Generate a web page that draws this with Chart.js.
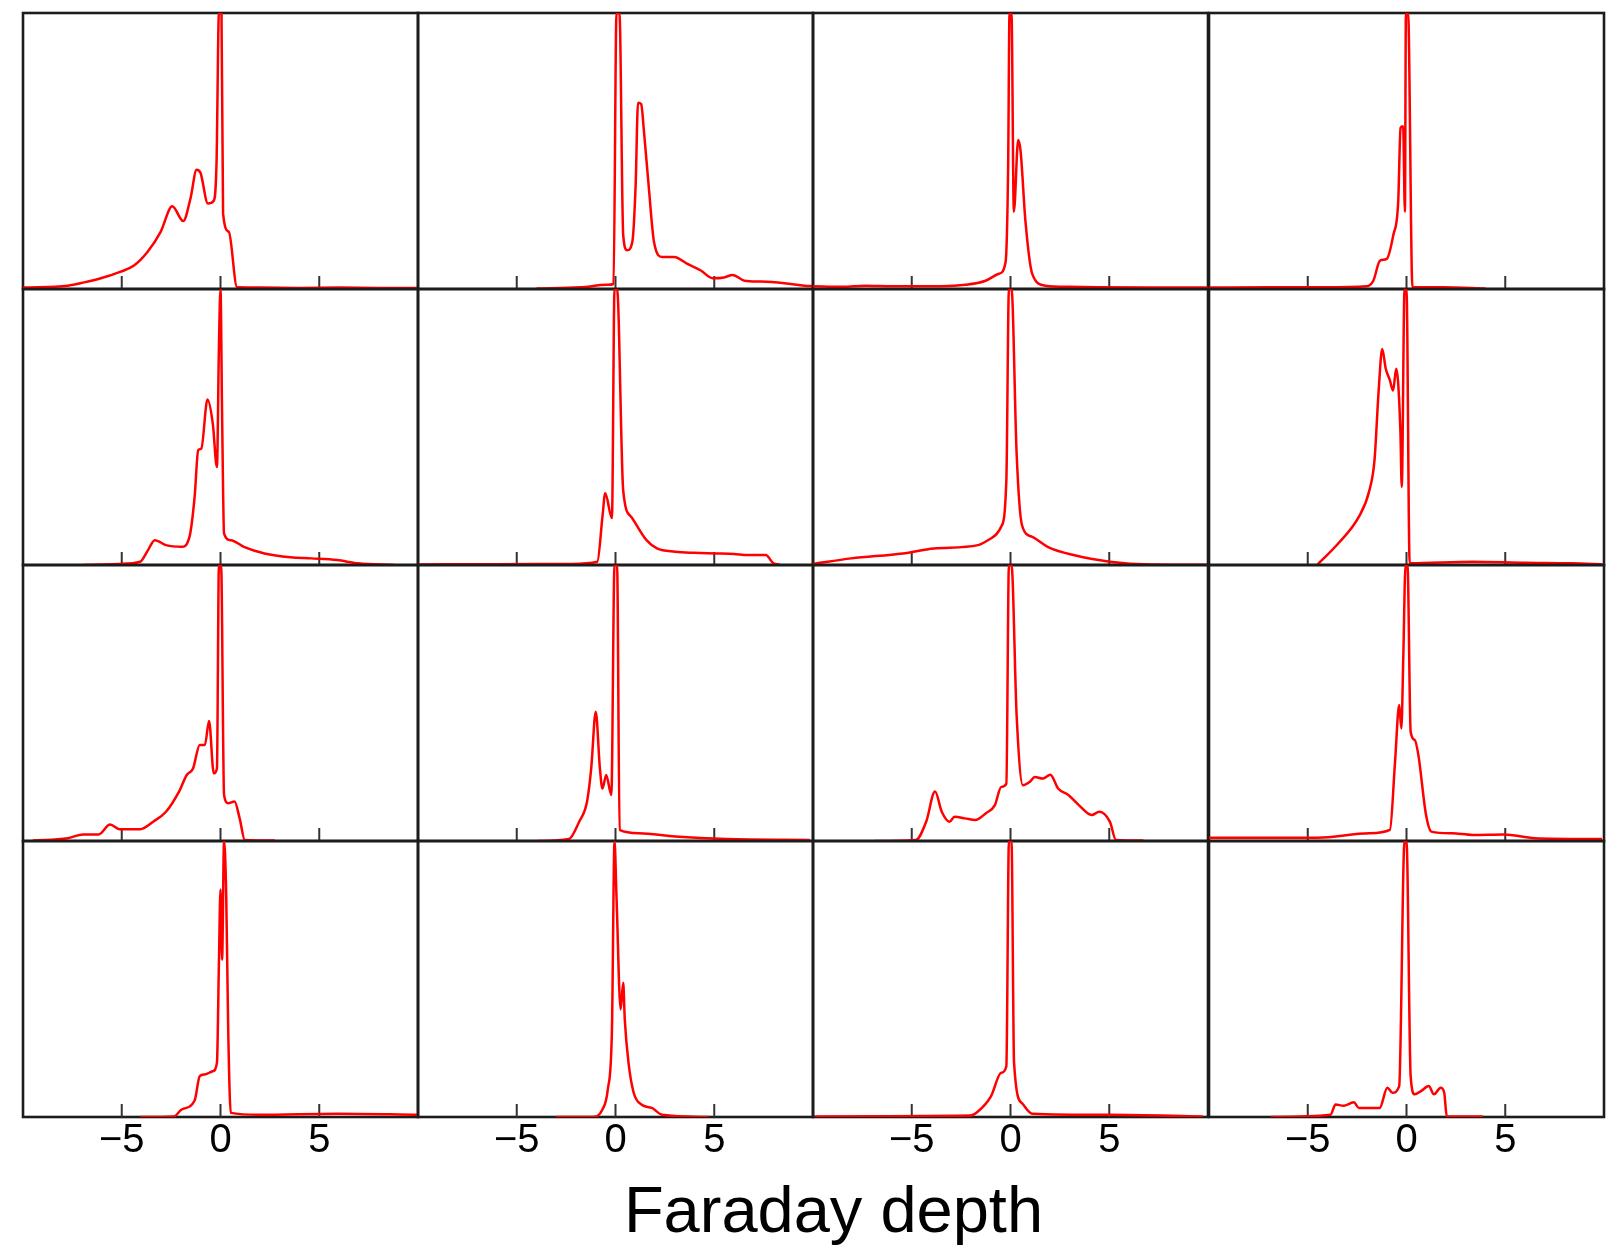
<!DOCTYPE html>
<html>
<head>
<meta charset="utf-8">
<script src="https://cdn.jsdelivr.net/npm/chart.js@4.4.1/dist/chart.umd.min.js"></script>
<style>
  html, body { margin: 0; padding: 0; background: #fff; }
  #page { position: relative; width: 1613px; height: 1250px; overflow: hidden; }
  #page canvas { position: absolute; }
  #xlabel {
    position: absolute; left: 0; width: 1667px; top: 1177px;
    text-align: center; font-family: 'Liberation Sans', Arial, sans-serif;
    font-size: 65px; line-height: 65px; color: #000;
  }
</style>
</head>
<body>
<div id="page">
  <div id="xlabel">Faraday depth</div>
</div>
<script>
// Faraday depth axis
const X_MIN = -10, X_MAX = 10;
const TICK_VALUES = [-5, 0, 5];

// row 1
const fd_1_1 = [-10, -7.74, -6.9, -6.06, -5.05, -4.38, -3.7, -3.03, -2.44, -1.89, -1.52, -1.21, -1.01, -0.64, -0.34, -0.2, -0.08, 0.05, 0.13, 0.42, 0.84, 2, 4, 6, 8, 10];
const amp_1_1 = [0.005, 0.012, 0.024, 0.039, 0.063, 0.085, 0.134, 0.207, 0.30, 0.246, 0.328, 0.432, 0.42, 0.31, 0.32, 0.46, 1.0, 1.0, 0.274, 0.207, 0.006, 0.005, 0.004, 0.005, 0.004, 0.004];

const fd_1_2 = [-4, -1.78, -0.42, -0.1, 0.05, 0.2, 0.39, 0.59, 0.85, 1.02, 1.14, 1.3, 1.44, 1.69, 1.95, 2.37, 2.97, 3.64, 4.32, 4.92, 5.5, 5.93, 6.53, 7.37, 8.56, 9.58, 10];
const amp_1_2 = [0.002, 0.006, 0.015, 0.018, 1.0, 1.0, 0.195, 0.14, 0.17, 0.377, 0.675, 0.67, 0.572, 0.365, 0.17, 0.116, 0.116, 0.091, 0.067, 0.039, 0.042, 0.051, 0.03, 0.027, 0.021, 0.012, 0.01];

const fd_1_3 = [-10, -8.5, -7.34, -6, -4.97, -3.5, -2.28, -1.26, -0.59, -0.25, -0.12, -0.05, 0.05, 0.17, 0.39, 0.51, 0.76, 1.1, 1.77, 3, 4.47, 7, 10];
const amp_1_3 = [0.01, 0.008, 0.012, 0.01, 0.01, 0.01, 0.015, 0.03, 0.055, 0.097, 0.44, 1.0, 1.0, 0.28, 0.54, 0.5, 0.243, 0.055, 0.012, 0.008, 0.006, 0.005, 0.005];

const fd_1_4 = [-10, -7, -4.2, -2.02, -1.68, -1.34, -1.0, -0.67, -0.42, -0.3, -0.17, -0.08, -0.03, 0.08, 0.3, 1.85, 4];
const amp_1_4 = [0.005, 0.006, 0.006, 0.01, 0.03, 0.103, 0.109, 0.195, 0.316, 0.584, 0.59, 0.28, 1.0, 1.0, 0.006, 0.006, 0.002];

// row 2
const fd_2_1 = [-6.96, -5.12, -4.07, -3.67, -3.33, -2.76, -1.97, -1.57, -1.31, -1.13, -0.97, -0.66, -0.39, -0.18, -0.08, 0, 0.08, 0.18, 0.52, 1.18, 2.23, 3.54, 4.59, 5.9, 6.96, 8.8];
const amp_2_1 = [0, 0.004, 0.012, 0.054, 0.09, 0.072, 0.066, 0.102, 0.247, 0.416, 0.422, 0.6, 0.512, 0.355, 0.79, 1.0, 0.548, 0.114, 0.09, 0.066, 0.042, 0.028, 0.024, 0.018, 0.006, 0];

const fd_2_2 = [-10, -6, -2.23, -0.92, -0.66, -0.52, -0.18, -0.05, 0.08, 0.39, 0.79, 1.57, 2.1, 3.02, 4, 5.12, 6.0, 6.69, 7.61, 8.0, 8.3];
const amp_2_2 = [0.002, 0.003, 0.004, 0.012, 0.175, 0.26, 0.17, 1.0, 1.0, 0.27, 0.175, 0.09, 0.06, 0.048, 0.044, 0.042, 0.04, 0.036, 0.036, 0.006, 0.002];

const fd_2_3 = [-10, -8.06, -5.45, -3.87, -1.65, -0.99, -0.47, -0.21, -0.08, 0.05, 0.31, 0.58, 1.1, 1.88, 3.19, 5.03, 7.12, 10];
const amp_2_3 = [0.004, 0.024, 0.042, 0.06, 0.072, 0.096, 0.139, 0.307, 1.0, 1.0, 0.404, 0.145, 0.102, 0.066, 0.036, 0.012, 0.002, 0.001];

const fd_2_4 = [-4.5, -3.46, -2.41, -1.88, -1.62, -1.41, -1.23, -1.05, -0.84, -0.68, -0.52, -0.31, -0.24, -0.1, 0, 0.16, 3.35, 5.97, 8.33, 10];
const amp_2_4 = [0.002, 0.078, 0.175, 0.27, 0.38, 0.632, 0.783, 0.711, 0.669, 0.632, 0.711, 0.488, 0.283, 1.0, 1.0, 0.006, 0.012, 0.008, 0.006, 0.002];

// row 3
const fd_3_1 = [-9.5, -7.74, -6.96, -6.17, -5.59, -5.12, -4.07, -3.41, -2.76, -2.1, -1.71, -1.39, -1.05, -0.79, -0.58, -0.34, -0.18, -0.08, 0.03, 0.18, 0.39, 0.71, 0.97, 1.23, 2.76];
const amp_3_1 = [0.002, 0.01, 0.024, 0.024, 0.06, 0.043, 0.043, 0.07, 0.106, 0.179, 0.239, 0.263, 0.348, 0.348, 0.435, 0.245, 0.263, 1.0, 1.0, 0.167, 0.137, 0.143, 0.082, 0.004, 0.002];

const fd_3_2 = [-3.94, -2.36, -1.84, -1.44, -1.23, -1.0, -0.79, -0.66, -0.47, -0.21, -0.05, 0.08, 0.21, 1.18, 3.02, 5.64, 9.84];
const amp_3_2 = [0, 0.007, 0.07, 0.143, 0.263, 0.468, 0.263, 0.19, 0.239, 0.167, 1.0, 1.0, 0.04, 0.028, 0.016, 0.007, 0.004];

const fd_3_3 = [-6.88, -4.79, -4.27, -3.82, -3.48, -3.09, -2.83, -2.3, -1.78, -1.26, -0.79, -0.47, -0.21, -0.08, 0.05, 0.31, 0.63, 0.97, 1.23, 1.62, 2.02, 2.41, 2.93, 3.46, 4.11, 4.5, 5.03, 5.34, 6.73];
const amp_3_3 = [0, 0.004, 0.07, 0.179, 0.106, 0.07, 0.088, 0.082, 0.076, 0.1, 0.13, 0.196, 0.208, 1.0, 1.0, 0.456, 0.202, 0.214, 0.232, 0.226, 0.24, 0.19, 0.167, 0.13, 0.094, 0.106, 0.07, 0.004, 0.002];

const fd_3_4 = [-10, -7.12, -4.5, -1.88, -0.84, -0.58, -0.37, -0.26, -0.16, -0.05, 0.05, 0.21, 0.42, 0.6, 0.99, 1.26, 2.3, 3.35, 4.92, 6.49, 9.9];
const amp_3_4 = [0.012, 0.012, 0.012, 0.028, 0.04, 0.287, 0.493, 0.408, 0.674, 1.0, 1.0, 0.396, 0.366, 0.312, 0.094, 0.034, 0.028, 0.022, 0.024, 0.01, 0.007];

// row 4
const fd_4_1 = [-4.07, -2.36, -1.97, -1.31, -1.05, -0.79, -0.39, -0.18, -0.08, 0, 0.08, 0.18, 0.29, 0.39, 0.52, 1.97, 5.9, 10];
const amp_4_1 = [0, 0.002, 0.027, 0.06, 0.148, 0.154, 0.166, 0.196, 0.558, 0.824, 0.57, 1.0, 0.8, 0.317, 0.015, 0.008, 0.012, 0.008];

const fd_4_2 = [-3.02, -1.18, -0.66, -0.39, -0.18, -0.05, 0.05, 0.26, 0.39, 0.47, 0.66, 0.92, 1.31, 1.84, 2.36, 4.72];
const amp_4_2 = [0, 0, 0.027, 0.1, 0.317, 1.0, 0.8, 0.39, 0.486, 0.353, 0.196, 0.088, 0.045, 0.033, 0.008, 0];

const fd_4_3 = [-9.9, -2.04, -1.65, -0.99, -0.47, -0.21, -0.08, 0.05, 0.18, 0.58, 1.1, 5.03, 9.74];
const amp_4_3 = [0.002, 0.005, 0.02, 0.075, 0.16, 0.184, 1.0, 1.0, 0.196, 0.05, 0.012, 0.008, 0.002];

const fd_4_4 = [-6.86, -3.85, -3.59, -3.19, -2.67, -2.41, -1.36, -0.97, -0.71, -0.37, -0.1, 0, 0.21, 0.42, 0.73, 1.13, 1.39, 1.73, 1.91, 2.04, 3.87];
const amp_4_4 = [0, 0.008, 0.045, 0.041, 0.053, 0.033, 0.033, 0.106, 0.088, 0.112, 1.0, 1.0, 0.148, 0.082, 0.094, 0.112, 0.082, 0.106, 0.088, 0.002, 0.002];

const panels = [
  [fd_1_1, amp_1_1], [fd_1_2, amp_1_2], [fd_1_3, amp_1_3], [fd_1_4, amp_1_4],
  [fd_2_1, amp_2_1], [fd_2_2, amp_2_2], [fd_2_3, amp_2_3], [fd_2_4, amp_2_4],
  [fd_3_1, amp_3_1], [fd_3_2, amp_3_2], [fd_3_3, amp_3_3], [fd_3_4, amp_3_4],
  [fd_4_1, amp_4_1], [fd_4_2, amp_4_2], [fd_4_3, amp_4_3], [fd_4_4, amp_4_4],
];

// grid layout (page pixels)
const COL_LEFT = [23, 418, 813, 1209];
const ROW_TOP = [13, 289, 565, 841];
const PANEL_W = 395, PANEL_H = 276;
const PAD = 6, LABEL_H = 56;

// frame + inward tick marks, drawn under the red line
const framePlugin = {
  id: 'frame',
  beforeDatasetsDraw(chart) {
    const { ctx, chartArea: a, scales: { x } } = chart;
    ctx.save();
    ctx.strokeStyle = '#1c1c1c';
    ctx.lineWidth = 2.6;
    ctx.strokeRect(a.left, a.top, a.right - a.left, a.bottom - a.top);
    ctx.lineWidth = 2;
    ctx.strokeStyle = '#333';
    ctx.beginPath();
    TICK_VALUES.forEach(v => {
      const px = x.getPixelForValue(v);
      ctx.moveTo(px, a.bottom);
      ctx.lineTo(px, a.bottom - 13);
    });
    ctx.stroke();
    ctx.restore();
  }
};

const page = document.getElementById('page');

panels.forEach(([fd, amp], i) => {
  const row = Math.floor(i / 4), col = i % 4;
  const isBottom = row === 3;

  const canvas = document.createElement('canvas');
  const w = PANEL_W + 2 * PAD;
  const h = PANEL_H + 2 * PAD + (isBottom ? LABEL_H : 0);
  canvas.style.left = (COL_LEFT[col] - PAD) + 'px';
  canvas.style.top = (ROW_TOP[row] - PAD) + 'px';
  canvas.style.width = w + 'px';
  canvas.style.height = h + 'px';
  canvas.width = w;
  canvas.height = h;
  page.appendChild(canvas);

  new Chart(canvas, {
    type: 'line',
    data: {
      datasets: [{
        data: fd.map((v, k) => ({ x: v, y: amp[k] })),
        borderColor: '#ff0000',
        borderWidth: 2.5,
        pointRadius: 0,
        cubicInterpolationMode: 'monotone',
        fill: false,
      }]
    },
    options: {
      responsive: false,
      animation: false,
      events: [],
      layout: { padding: PAD },
      plugins: { legend: { display: false }, tooltip: { enabled: false } },
      scales: {
        x: {
          type: 'linear',
          min: X_MIN,
          max: X_MAX,
          afterBuildTicks: s => { s.ticks = TICK_VALUES.map(v => ({ value: v })); },
          afterFit: s => { s.height = isBottom ? LABEL_H : 0; },
          grid: { display: false, drawTicks: false },
          border: { display: false },
          ticks: {
            display: isBottom,
            autoSkip: false,
            maxRotation: 0,
            padding: 0,
            color: '#000',
            font: { family: 'Liberation Sans', size: 40 },
            callback: v => v < 0 ? '\u2212' + Math.abs(v) : String(v)
          }
        },
        y: { display: false, min: 0, max: 1 }
      }
    },
    plugins: [framePlugin]
  });
});
</script>
</body>
</html>
